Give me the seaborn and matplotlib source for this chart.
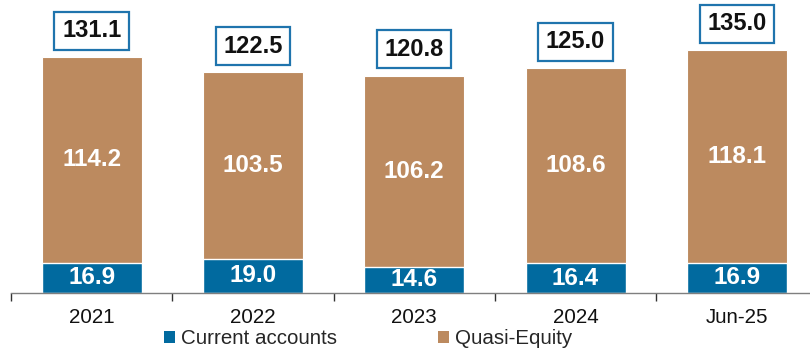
import matplotlib
matplotlib.use("Agg")
import matplotlib.pyplot as plt
from matplotlib.patches import Patch
import seaborn as sns
import pandas as pd
import numpy as np

periods = ["2021", "2022", "2023", "2024", "Jun-25"]
current_accounts = [16.9, 19.0, 14.6, 16.4, 16.9]
quasi_equity = [114.2, 103.5, 106.2, 108.6, 118.1]

BLUE = "#016a9f"
BROWN = "#bc8a5f"
BOX_EDGE = "#1f74ad"

sns.set_theme(style="white")
plt.rcParams["font.family"] = ["Liberation Sans", "DejaVu Sans"]

df = pd.DataFrame({
    "period": periods,
    "current": current_accounts,
    "quasi": quasi_equity,
})
df["total"] = df["current"] + df["quasi"]

fig = plt.figure(figsize=(8.10, 3.51), dpi=100)
ax = fig.add_axes([11 / 810, 58 / 351, 806.5 / 810, 270 / 351])

# Stacked bars: the full stack in brown, current accounts overlaid at the base
sns.barplot(data=df, x="period", y="total", color=BROWN, width=0.62,
            edgecolor="white", linewidth=0.8, saturation=1, ax=ax)
sns.barplot(data=df, x="period", y="current", color=BLUE, width=0.62,
            edgecolor="white", linewidth=1.0, saturation=1, ax=ax)

ax.set_xlim(-0.5, len(periods) - 0.5)
ax.set_ylim(0, 150)
ax.set_xlabel("")
ax.set_ylabel("")
ax.set_yticks([])

for side in ["top", "right", "left"]:
    ax.spines[side].set_visible(False)
ax.spines["bottom"].set_color("#7f7f7f")
ax.spines["bottom"].set_linewidth(1.0)

# Category separators as tick marks, labels centred under the bars
ax.set_xticks(np.arange(len(periods)))
ax.set_xticklabels(periods, fontsize=14.8, color="#111111")
ax.set_xticks(np.arange(-0.5, len(periods) - 0.5 + 1e-9, 1.0), minor=True)
ax.tick_params(axis="x", which="major", bottom=True, length=0, pad=11)
ax.tick_params(axis="x", which="minor", bottom=True, length=6, width=1.0,
               color="#333333", direction="out")

for i, row in df.iterrows():
    ax.text(i, row["current"] / 2, f"{row['current']:.1f}", ha="center",
            va="center", color="white", fontsize=17.5, fontweight="bold")
    ax.text(i, row["current"] + row["quasi"] / 2, f"{row['quasi']:.1f}",
            ha="center", va="center", color="white", fontsize=17.5,
            fontweight="bold")
    ax.annotate(f"{row['total']:.1f}", xy=(i, row["total"]),
                xytext=(0, 19), textcoords="offset points",
                ha="center", va="center", fontsize=17, fontweight="bold",
                color="#111111", annotation_clip=False,
                bbox=dict(boxstyle="square,pad=0.32", facecolor="white",
                          edgecolor=BOX_EDGE, linewidth=1.6))

handles = [Patch(facecolor=BLUE, edgecolor="none", label="Current accounts"),
           Patch(facecolor=BROWN, edgecolor="none", label="Quasi-Equity")]
fig.legend(handles=handles, loc="center", bbox_to_anchor=(368 / 810, 1 - 339 / 351),
           ncol=2, frameon=False, fontsize=14.8, handlelength=0.55,
           handleheight=0.55, handletextpad=0.3, columnspacing=4.9,
           borderaxespad=0, borderpad=0)

fig.savefig("out.png", dpi=100)
